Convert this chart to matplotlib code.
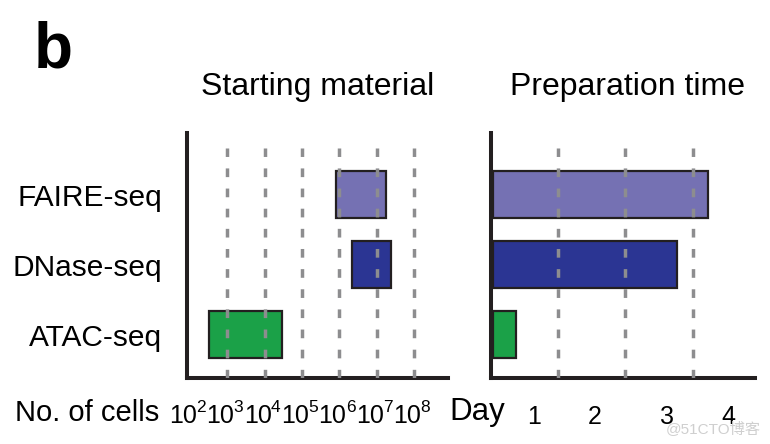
import numpy as np
import matplotlib
matplotlib.use("Agg")
import matplotlib.pyplot as plt

plt.rcParams['font.family'] = ['Liberation Sans', 'Noto Sans CJK SC', 'DejaVu Sans']

methods = ["ATAC-seq", "DNase-seq", "FAIRE-seq"]
colors = ["#1ba148", "#2b3593", "#7571b3"]

# starting material, log10(no. of cells) ranges
cells_lo = [2.51, 6.35, 5.91]
cells_hi = [4.47, 7.38, 7.26]
cell_exps = [2, 3, 4, 5, 6, 7, 8]

# preparation time in days
prep_days = [0.35, 2.73, 3.19]
day_lines = [1, 2, 3]
day_labels = ["1", "2", "3", "4"]
day_label_pos = [0.64, 1.55, 2.62, 3.52]

spine_col = "#231f20"
grid_col = "#8d8d8f"

fig = plt.figure(figsize=(7.7, 4.44), dpi=100)
ax1 = fig.add_axes([0.2435, 0.1486, 0.338, 0.552])
ax2 = fig.add_axes([0.6373, 0.1486, 0.343, 0.552])

y = np.arange(len(methods))

for ax in (ax1, ax2):
    for s in ["top", "right"]:
        ax.spines[s].set_visible(False)
    for s in ["left", "bottom"]:
        ax.spines[s].set_linewidth(2.9)
        ax.spines[s].set_color(spine_col)
    ax.set_ylim(-0.62, 2.88)
    ax.tick_params(length=0)

# left panel
ax1.set_xscale("log")
ax1.set_xlim(10 ** 1.936, 10 ** 8.9)
for e in cell_exps[1:]:
    ax1.axvline(10 ** e, ymax=0.94, color=grid_col, lw=2.5, dashes=(2.5, 3.3), zorder=3)
lo = 10 ** np.array(cells_lo)
hi = 10 ** np.array(cells_hi)
ax1.barh(y, hi - lo, left=lo, height=0.66, color=colors, edgecolor=spine_col, linewidth=1.6, zorder=2)
ax1.set_xticks([])
ax1.xaxis.set_minor_locator(matplotlib.ticker.NullLocator())
for e in cell_exps:
    ax1.annotate("10", xy=(10 ** e, 0), xycoords=("data", "axes fraction"),
                 xytext=(5, -32.5), textcoords="offset points",
                 ha="right", va="baseline", fontsize=18, annotation_clip=False)
    ax1.annotate(str(e), xy=(10 ** e, 0), xycoords=("data", "axes fraction"),
                 xytext=(4.6, -24.3), textcoords="offset points",
                 ha="left", va="baseline", fontsize=12.5, annotation_clip=False)
ax1.set_yticks(y)
ax1.set_yticklabels(methods, fontsize=21.5, va="center_baseline")
ax1.tick_params(axis="y", pad=18)

# right panel
ax2.set_xlim(0, 3.92)
for d in day_lines:
    ax2.axvline(d, ymax=0.94, color=grid_col, lw=2.5, dashes=(2.5, 3.3), zorder=3)
ax2.barh(y, prep_days, left=0.03, height=0.66, color=colors, edgecolor=spine_col, linewidth=1.6, zorder=2)
ax2.set_xticks(day_label_pos)
ax2.set_xticklabels(day_labels, fontsize=18, va="baseline")
ax2.tick_params(axis="x", pad=33)
ax2.set_yticks([])

fig.text(0.261, 0.786, "Starting material", fontsize=23, ha="left", va="baseline")
fig.text(0.662, 0.786, "Preparation time", fontsize=23, ha="left", va="baseline")
fig.text(0.0435, 0.847, "b", fontsize=46, fontweight="bold", ha="left", va="baseline")
fig.text(0.019, 0.052, "No. of cells", fontsize=21, ha="left", va="baseline")
fig.text(0.583, 0.054, "Day", fontsize=22.5, ha="left", va="baseline")
fig.text(0.988, 0.035, "@51CTO博客", fontsize=11, color="#cfcfcf", ha="right", va="center")

fig.savefig("out.png", dpi=100)
